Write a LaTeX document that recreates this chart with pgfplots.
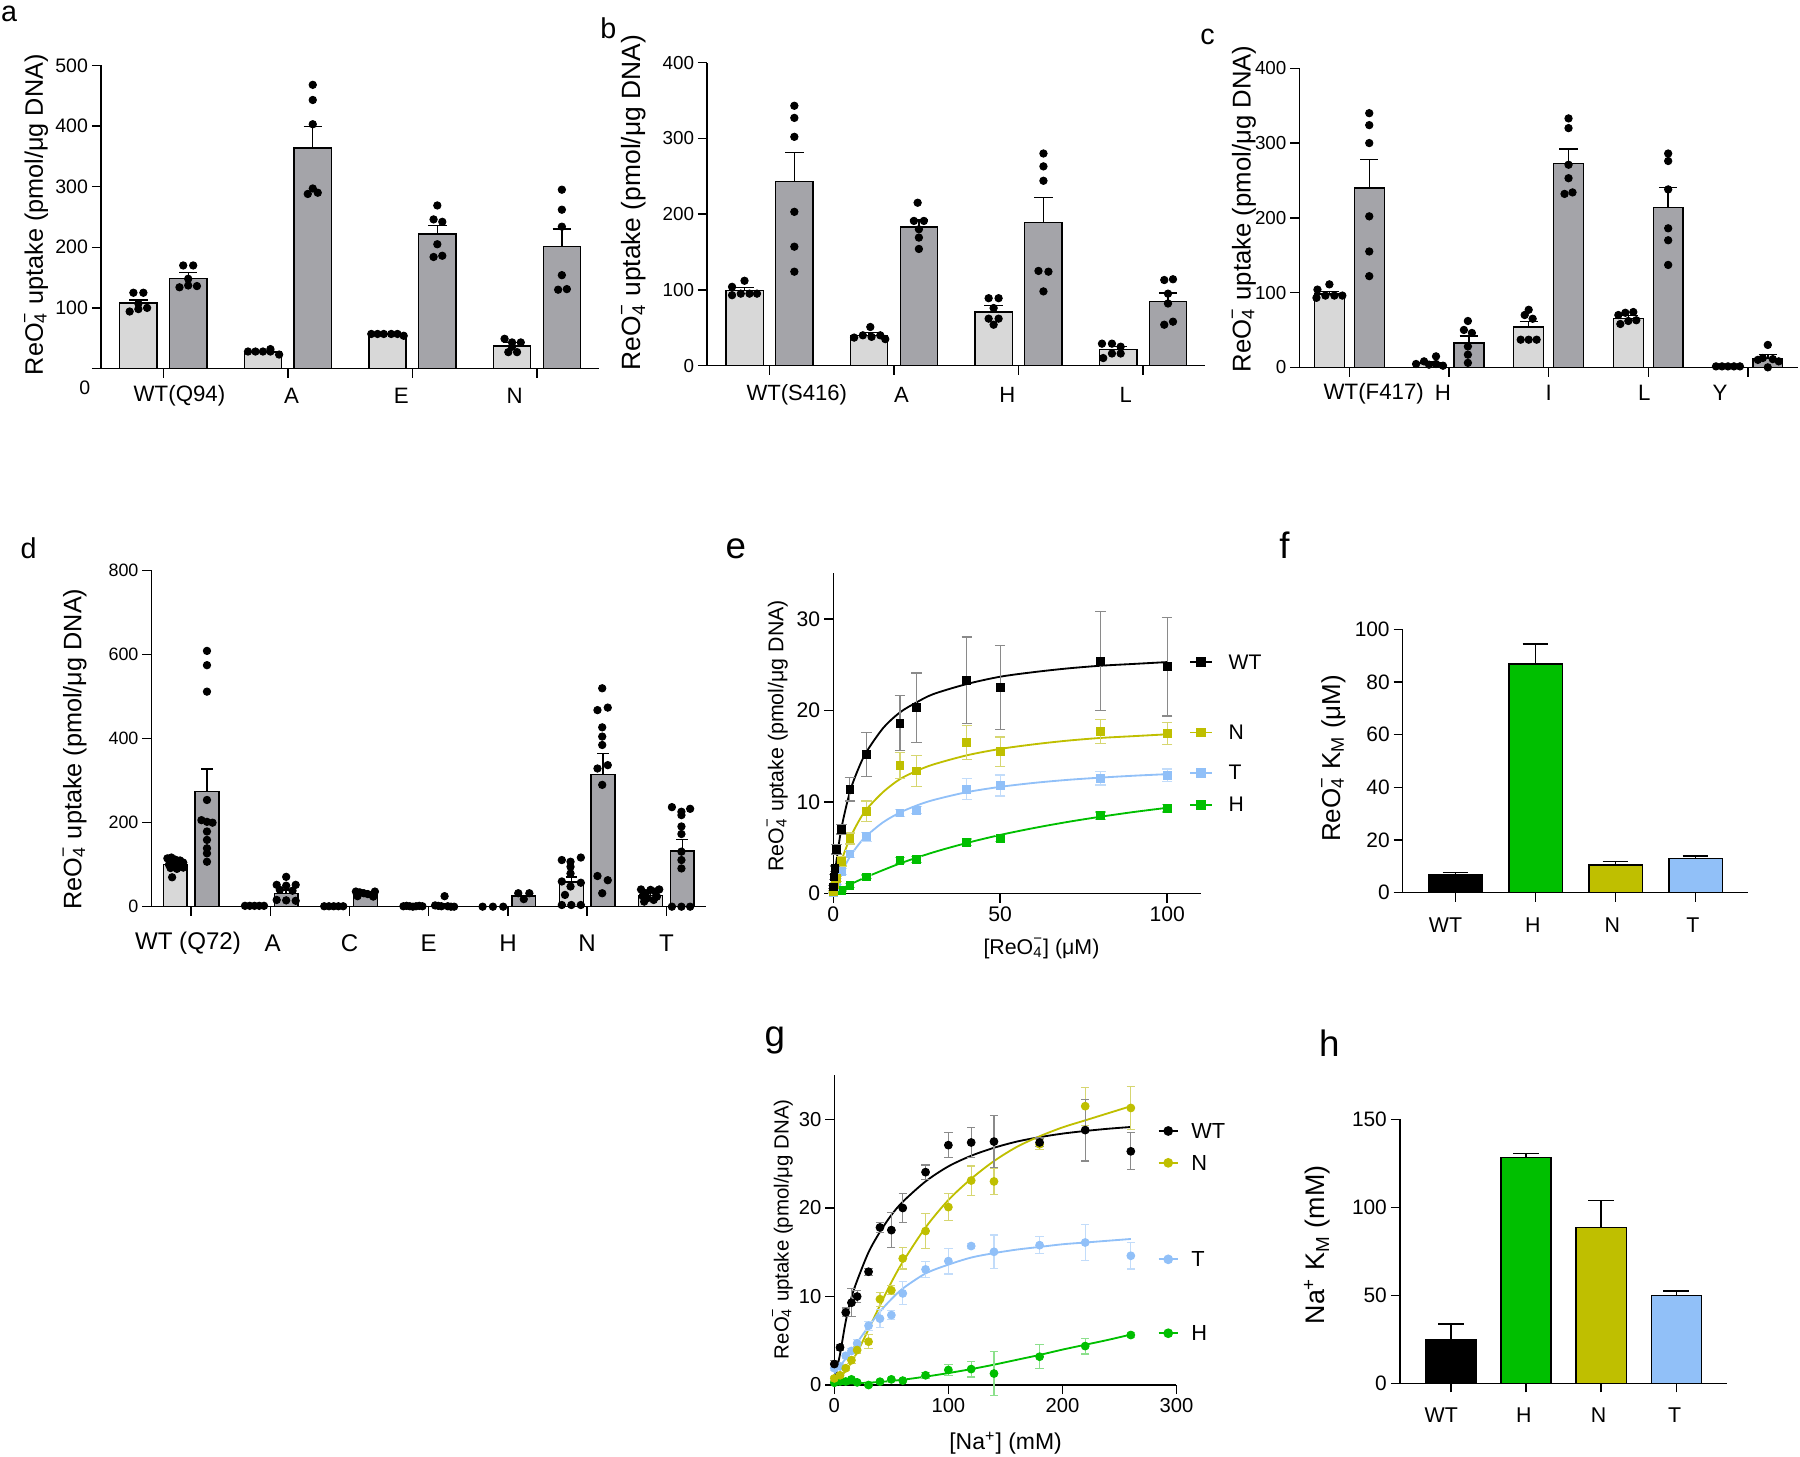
\documentclass[border=0pt]{standalone}
\usepackage{fontspec}
\setmainfont{Liberation Sans}
\usepackage{pgfplots}
\pgfplotsset{compat=1.18}
\definecolor{lgray}{HTML}{D8D8D8}
\definecolor{dgray}{HTML}{A4A4A9}
\definecolor{cgreen}{HTML}{00BF00}
\definecolor{colive}{HTML}{BFBF00}
\definecolor{cblue}{HTML}{91C0F8}
\definecolor{egray}{HTML}{8A8A8A}
\definecolor{egreen}{HTML}{8CE08C}
\definecolor{eolive}{HTML}{D6D670}
\definecolor{eblue}{HTML}{C2DCFA}
\newcommand\fs[1]{\fontsize{#1}{#1}\selectfont}
\newcommand\reo{ReO\rlap{\textsubscript{4}}\raisebox{0.12em}{\textsuperscript{−}}}
\pgfplotsset{
  base/.style={scale only axis, anchor=south west, axis lines*=left, enlargelimits=false,
    tick align=outside, major tick length=4pt, axis line style={line width=0.6pt},
    major tick style={line width=0.6pt, black}, clip=false,
    /pgf/number format/assume math mode=true, /pgf/number format/1000 sep={},
    yticklabel style={inner xsep=1.5pt}, xticklabel style={inner ysep=1.5pt}},
  lbar/.style={ybar, bar width=0.3, bar shift=0, fill=lgray, draw=black, line width=0.6pt,
    error bars/y dir=plus, error bars/y explicit,
    error bars/error bar style={line width=0.6pt, black},
    error bars/error mark options={rotate=90, mark size=#1, line width=0.6pt, black}},
  dbar/.style={ybar, bar width=0.3, bar shift=0, fill=dgray, draw=black, line width=0.6pt,
    error bars/y dir=plus, error bars/y explicit,
    error bars/error bar style={line width=0.6pt, black},
    error bars/error mark options={rotate=90, mark size=#1, line width=0.6pt, black}},
  kbar/.style={ybar, bar width=0.667, bar shift=0, fill=#1, draw=black, line width=0.6pt,
    error bars/y dir=plus, error bars/y explicit,
    error bars/error bar style={line width=0.6pt, black},
    error bars/error mark options={rotate=90, mark size=5.6pt, line width=0.6pt, black}},
  pts/.style={only marks, mark=*, mark size=1.6pt, black},
  epts/.style 2 args={only marks, mark=square*, mark size=1.7pt, color=#1,
    error bars/y dir=both, error bars/y explicit,
    error bars/error bar style={line width=0.5pt, #2},
    error bars/error mark options={rotate=90, mark size=2.3pt, line width=0.5pt, #2}},
  gpts/.style 2 args={only marks, mark=*, mark size=1.7pt, color=#1,
    error bars/y dir=both, error bars/y explicit,
    error bars/error bar style={line width=0.5pt, #2},
    error bars/error mark options={rotate=90, mark size=1.8pt, line width=0.5pt, #2}},
  fit/.style={#1, line width=0.8pt, smooth, no marks},
}
\begin{document}
\begin{tikzpicture}
\path[use as bounding box] (0,0) rectangle (784pt,-634.5pt);

% ---------------- a
\begin{axis}[base, at={(44pt,-160.5pt)}, width=217pt, height=132pt,
  xmin=-0.5, xmax=3.5, ymin=0, ymax=500, xtick={0,1,2,3}, xticklabels={,,,},
  ytick={0,100,200,300,400,500}, yticklabels={,100,200,300,400,500},
  tick label style={font=\fs{8.5}}]
\addplot[lbar=4pt] coordinates {(-0.2,108) +- (0,5) (0.8,27) +- (0,1.5) (1.8,57) +- (0,1) (2.8,37) +- (0,6)};
\addplot[dbar=4pt] coordinates {(0.2,149) +- (0,9) (1.2,364) +- (0,35) (2.2,222) +- (0,14) (3.2,201) +- (0,29)};
\addplot[pts] coordinates {(-0.24,125)(-0.16,125)(-0.27,94)(-0.2,98)(-0.13,100)(-0.2,107)
 (0.16,170)(0.24,170)(0.13,134)(0.2,137)(0.27,136)(0.2,148)
 (0.68,28)(0.74,28)(0.8,28)(0.86,32)(0.86,28)(0.93,23)
 (1.2,468)(1.2,443)(1.2,403)(1.16,288)(1.24,290)(1.2,297)
 (1.67,57)(1.72,57)(1.77,57)(1.83,57)(1.88,57)(1.93,54)
 (2.2,269)(2.17,246)(2.24,242)(2.2,205)(2.17,184)(2.24,186)
 (2.74,49)(2.8,43)(2.87,43)(2.77,27)(2.84,27)(2.8,36)
 (3.2,295)(3.2,262)(3.2,234)(3.2,154)(3.17,130)(3.24,131)};
\node[font=\fs{9.7}, yshift=-12pt] at (axis cs:0.13,0) {WT(Q94)};
\node[font=\fs{9.7}, yshift=-12pt] at (axis cs:1.03,0) {A};
\node[font=\fs{9.7}, yshift=-12pt] at (axis cs:1.91,0) {E};
\node[font=\fs{9.7}, yshift=-12pt] at (axis cs:2.82,0) {N};
\node[font=\fs{8.5}, yshift=-8.5pt] at (axis cs:-0.63,0) {0};
\end{axis}

% ---------------- b
\begin{axis}[base, at={(308pt,-159.25pt)}, width=217pt, height=132pt,
  xmin=-0.5, xmax=3.5, ymin=0, ymax=400, xtick={0,1,2,3}, xticklabels={,,,},
  ytick={0,100,200,300,400}, tick label style={font=\fs{8.2}}]
\addplot[lbar=4pt] coordinates {(-0.2,99) +- (0,4) (0.8,40) +- (0,4) (1.8,71) +- (0,8) (2.8,21) +- (0,4)};
\addplot[dbar=4pt] coordinates {(0.2,243) +- (0,38) (1.2,183) +- (0,10) (2.2,189) +- (0,33) (3.2,85) +- (0,11)};
\addplot[pts] coordinates {(-0.3,104)(-0.2,112)(-0.3,93)(-0.23,95)(-0.16,95)(-0.1,95)
 (0.2,343)(0.2,327)(0.2,302)(0.2,203)(0.2,157)(0.2,124)
 (0.68,37)(0.75,40)(0.81,51)(0.82,38)(0.89,40)(0.93,35)
 (1.19,215)(1.16,191)(1.24,191)(1.2,180)(1.2,169)(1.2,154)
 (1.76,89)(1.84,89)(1.8,76)(1.76,62)(1.84,62)(1.8,54)
 (2.2,280)(2.2,263)(2.2,244)(2.16,125)(2.24,124)(2.2,98)
 (2.67,29)(2.75,29)(2.68,10)(2.75,16)(2.82,16)(2.82,25)
 (3.17,113)(3.24,114)(3.2,95)(3.2,82)(3.17,54)(3.24,58)};
\node[font=\fs{9.6}, yshift=-12.75pt] at (axis cs:0.22,0) {WT(S416)};
\node[font=\fs{9.6}, yshift=-12.75pt] at (axis cs:1.06,0) {A};
\node[font=\fs{9.6}, yshift=-12.75pt] at (axis cs:1.91,0) {H};
\node[font=\fs{9.6}, yshift=-12.75pt] at (axis cs:2.86,0) {L};
\end{axis}

% ---------------- c
\begin{axis}[base, at={(566pt,-160pt)}, width=217pt, height=130.25pt,
  xmin=-0.5, xmax=4.5, ymin=0, ymax=400, xtick={0,1,2,3,4}, xticklabels={,,,,},
  ytick={0,100,200,300,400}, tick label style={font=\fs{8.2}}]
\addplot[lbar=4pt] coordinates {(-0.2,98) +- (0,3.5) (0.8,6) +- (0,2) (1.8,54) +- (0,7.5) (2.8,65) +- (0,4) (3.8,1.3) +- (0,0.3)};
\addplot[dbar=4pt] coordinates {(0.2,240) +- (0,38) (1.2,32.5) +- (0,9.5) (2.2,273) +- (0,19) (3.2,214) +- (0,26.5) (4.2,11.6) +- (0,5.4)};
\addplot[pts] coordinates {(-0.32,104)(-0.2,111)(-0.33,93)(-0.24,96)(-0.15,96)(-0.07,96)
 (0.2,340)(0.2,324)(0.2,300)(0.2,202)(0.2,155)(0.2,122)
 (0.67,4.5)(0.75,8)(0.8,3.6)(0.87,14.7)(0.87,4.5)(0.94,2.2)
 (1.19,62)(1.15,50)(1.23,46)(1.19,28)(1.19,17)(1.19,6)
 (1.8,77)(1.76,70)(1.84,65)(1.72,37)(1.8,37)(1.88,37)
 (2.2,333)(2.2,320)(2.2,271)(2.2,253)(2.16,232)(2.24,234)
 (2.7,70)(2.77,73)(2.85,74)(2.72,58)(2.8,62)(2.88,63)
 (3.2,286)(3.2,276)(3.2,238)(3.2,186)(3.2,170)(3.2,137)
 (3.68,1.3)(3.74,1.3)(3.8,1.3)(3.86,1.3)(3.92,1.3)
 (4.2,30)(4.1,10)(4.15,12.5)(4.25,11)(4.31,8)(4.2,0)};
\node[font=\fs{9.7}, yshift=-11.3pt] at (axis cs:0.245,0) {WT(F417)};
\node[font=\fs{9.7}, yshift=-11.3pt] at (axis cs:0.94,0) {H};
\node[font=\fs{9.7}, yshift=-11.3pt] at (axis cs:2.0,0) {I};
\node[font=\fs{9.7}, yshift=-11.3pt] at (axis cs:2.96,0) {L};
\node[font=\fs{9.7}, yshift=-11.3pt] at (axis cs:3.72,0) {Y};
\end{axis}

% ---------------- d
\begin{axis}[base, at={(66pt,-394.9pt)}, width=241.5pt, height=146.35pt,
  xmin=-0.5, xmax=6.5, ymin=0, ymax=800, xtick={0,1,2,3,4,5,6}, xticklabels={,,,,,,},
  ytick={0,200,400,600,800}, tick label style={font=\fs{7.8}}]
\addplot[lbar=2.5pt] coordinates {(-0.2,100) +- (0,6) (0.8,2) +- (0,0.5) (1.8,1) +- (0,0.3) (2.8,1) +- (0,0.3) (3.8,0) +- (0,0) (4.8,59) +- (0,12) (5.8,26) +- (0,10)};
\addplot[dbar=2.5pt] coordinates {(0.2,274) +- (0,54) (1.2,32) +- (0,8) (2.2,29) +- (0,3) (3.2,4) +- (0,3) (4.2,25) +- (0,2) (5.2,315) +- (0,50) (6.2,133) +- (0,27)};
\addplot[pts] coordinates {(-0.3,115)(-0.25,117)(-0.2,112)(-0.14,110)(-0.1,105)(-0.28,100)(-0.22,98)(-0.16,96)(-0.1,93)(-0.26,92)(-0.18,90)(-0.24,70)
 (0.2,609)(0.2,575)(0.2,512)(0.2,254)(0.13,206)(0.2,202)(0.27,200)(0.2,179)(0.2,159)(0.2,139)(0.2,127)(0.2,107)
 (0.68,2)(0.74,2)(0.8,2)(0.86,2)(0.92,2)
 (1.2,71)(1.08,52)(1.2,50)(1.32,52)(1.12,40)(1.28,38)(1.08,16)(1.2,15)(1.32,14)
 (1.68,1)(1.74,1)(1.8,1)(1.86,1)(1.92,1)
 (2.08,36)(2.13,34)(2.18,32)(2.23,30)(2.28,28)(2.32,36)(2.1,25)(2.3,24)
 (2.68,1)(2.72,2)(2.76,1)(2.8,0)(2.84,1)(2.88,2)(2.92,1)
 (3.2,25)(3.08,3)(3.12,2)(3.16,1)(3.24,1)(3.28,0)(3.32,0)
 (3.68,0)(3.81,0)(3.94,0)
 (4.13,32)(4.27,32)(4.2,18)
 (4.68,111)(4.92,117)(4.79,107)(4.79,95)(4.79,79)(4.68,60)(4.92,57)(4.79,48)(4.72,28)(4.68,4)(4.8,4)(4.92,4)
 (5.19,520)(5.13,468)(5.26,474)(5.19,427)(5.19,405)(5.19,385)(5.13,329)(5.26,337)(5.19,290)(5.13,73)(5.26,63)(5.19,32)
 (5.68,41)(5.8,40)(5.91,41)(5.74,32)(5.86,36)(5.7,25)(5.88,24)(5.76,20)(5.84,16)(5.72,12)
 (6.07,237)(6.3,233)(6.19,226)(6.19,218)(6.19,191)(6.19,173)(6.19,131)(6.19,111)(6.19,91)(6.07,0)(6.19,0)(6.3,0)};
\node[font=\fs{10.5}, yshift=-16pt] at (axis cs:-0.04,0) {WT (Q72)};
\node[font=\fs{10.5}, yshift=-16pt] at (axis cs:1.03,0) {A};
\node[font=\fs{10.5}, yshift=-16pt] at (axis cs:2,0) {C};
\node[font=\fs{10.5}, yshift=-16pt] at (axis cs:3,0) {E};
\node[font=\fs{10.5}, yshift=-16pt] at (axis cs:4,0) {H};
\node[font=\fs{10.5}, yshift=-16pt] at (axis cs:5,0) {N};
\node[font=\fs{10.5}, yshift=-16pt] at (axis cs:6,0) {T};
\end{axis}

% ---------------- e
\begin{axis}[base, at={(362.9pt,-389.1pt)}, width=160pt, height=139.35pt,
  xmin=0, xmax=110, ymin=0, ymax=35, xtick={0,50,100}, ytick={0,10,20,30},
  tick label style={font=\fs{9.2}}]
\addplot[fit=black] coordinates {(0,0)(0.5,2.0)(1,3.6)(2.5,7.2)(5,11.1)(7.5,13.6)(10,15.5)(15,18.1)(20,19.8)(25,20.9)(30,21.8)(40,22.9)(50,23.7)(60,24.2)(70,24.6)(80,24.9)(90,25.1)(100,25.3)};
\addplot[fit=colive] coordinates {(0,0)(1,1.6)(2.5,3.6)(5,6.0)(7.5,7.8)(10,9.2)(15,11.1)(20,12.5)(25,13.4)(30,14.1)(40,15.1)(50,15.8)(60,16.3)(70,16.7)(80,17.0)(90,17.2)(100,17.4)};
\addplot[fit=cblue] coordinates {(0,0)(1,1.02)(2.5,2.31)(5,4.0)(7.5,5.29)(10,6.3)(15,7.79)(20,8.84)(25,9.61)(30,10.21)(40,11.07)(50,11.65)(60,12.08)(70,12.41)(80,12.66)(90,12.87)(100,13.04)};
\addplot[fit=cgreen] coordinates {(0,0)(5,0.95)(10,1.8)(20,3.27)(30,4.49)(40,5.51)(50,6.39)(60,7.14)(70,7.8)(80,8.38)(90,8.9)(100,9.36)};
\addplot[epts={cgreen}{egreen}] coordinates {(0,0.05) +- (0,0.1) (2.5,0.35) +- (0,0.1) (5,0.85) +- (0,0.2) (10,1.8) +- (0,0.2) (20,3.6) +- (0,0.3) (25,3.7) +- (0,0.3) (40,5.6) +- (0,0.35) (50,6.0) +- (0,0.3) (80,8.5) +- (0,0.4) (100,9.3) +- (0,0.4)};
\addplot[epts={cblue}{eblue}] coordinates {(0,0.1) +- (0,0.1) (0.25,0.4) +- (0,0.1) (0.5,0.7) +- (0,0.2) (1,1.3) +- (0,0.3) (2.5,2.4) +- (0,0.3) (5,4.3) +- (0,0.4) (10,6.2) +- (0,0.5) (20,8.8) +- (0,0.4) (25,9.1) +- (0,0.4) (40,11.4) +- (0,1.15) (50,11.8) +- (0,1.15) (80,12.6) +- (0,0.75) (100,12.9) +- (0,0.7)};
\addplot[epts={colive}{eolive}] coordinates {(0,0.2) +- (0,0.1) (0.25,0.6) +- (0,0.2) (0.5,1.0) +- (0,0.2) (1,1.6) +- (0,0.3) (2.5,3.5) +- (0,0.5) (5,6.0) +- (0,0.6) (10,9.0) +- (0,1.1) (20,14.0) +- (0,1.4) (25,13.4) +- (0,1.7) (40,16.5) +- (0,1.85) (50,15.5) +- (0,1.6) (80,17.7) +- (0,1.35) (100,17.5) +- (0,1.2)};
\addplot[epts={black}{egray}] coordinates {(0,0.7) +- (0,0.2) (0.25,1.8) +- (0,0.3) (0.5,2.7) +- (0,0.3) (1,4.8) +- (0,0.5) (2.5,7.0) +- (0,0.5) (5,11.4) +- (0,1.3) (10,15.2) +- (0,2.4) (20,18.6) +- (0,3.0) (25,20.3) +- (0,3.8) (40,23.3) +- (0,4.75) (50,22.5) +- (0,4.6) (80,25.4) +- (0,5.4) (100,24.8) +- (0,5.4)};
% legend
\addplot[black, line width=0.8pt, mark=square*, mark size=1.7pt, mark indices={2}] coordinates {(106.9,25.3)(110.1,25.3)(113.4,25.3)};
\addplot[colive, line width=0.8pt, mark=square*, mark size=1.7pt, mark indices={2}] coordinates {(106.9,17.6)(110.1,17.6)(113.4,17.6)};
\addplot[cblue, line width=0.8pt, mark=square*, mark size=1.7pt, mark indices={2}] coordinates {(106.9,13.2)(110.1,13.2)(113.4,13.2)};
\addplot[cgreen, line width=0.8pt, mark=square*, mark size=1.7pt, mark indices={2}] coordinates {(106.9,9.7)(110.1,9.7)(113.4,9.7)};
\node[font=\fs{9.2}, anchor=west] at (axis cs:116,25.3) {WT};
\node[font=\fs{9.2}, anchor=west] at (axis cs:116,17.6) {N};
\node[font=\fs{9.2}, anchor=west] at (axis cs:116,13.2) {T};
\node[font=\fs{9.2}, anchor=west] at (axis cs:116,9.7) {H};
\end{axis}

% ---------------- f
\begin{axis}[base, at={(610.95pt,-388.8pt)}, width=150.55pt, height=114.7pt,
  xmin=-0.66, xmax=3.66, ymin=0, ymax=100, xtick={0,1,2,3}, xticklabels={,,,},
  ytick={0,20,40,60,80,100}, tick label style={font=\fs{9.1}}]
\addplot[kbar=black] coordinates {(0,7.0) +- (0,0.6)};
\addplot[kbar=cgreen] coordinates {(1,86.8) +- (0,7.6)};
\addplot[kbar=colive] coordinates {(2,10.5) +- (0,1.3)};
\addplot[kbar=cblue] coordinates {(3,13.0) +- (0,0.9)};
\node[font=\fs{9.3}, yshift=-14pt] at (axis cs:-0.125,0) {WT};
\node[font=\fs{9.3}, yshift=-14pt] at (axis cs:0.967,0) {H};
\node[font=\fs{9.3}, yshift=-14pt] at (axis cs:1.96,0) {N};
\node[font=\fs{9.3}, yshift=-14pt] at (axis cs:2.967,0) {T};
\end{axis}

% ---------------- g
\begin{axis}[base, at={(363.4pt,-603.25pt)}, width=149pt, height=134.95pt,
  xmin=0, xmax=300, ymin=0, ymax=35, xtick={0,100,200,300}, ytick={0,10,20,30},
  tick label style={font=\fs{8.8}}]
\addplot[fit=black] coordinates {(0,0.5)(5,3.5)(10,7.2)(15,9.9)(20,11.8)(30,15.0)(40,17.3)(50,19.2)(60,20.7)(80,23.0)(100,24.7)(120,25.9)(140,26.8)(160,27.5)(180,28.0)(200,28.4)(220,28.7)(240,28.95)(260,29.15)};
\addplot[fit=colive] coordinates {(0,0.3)(10,1.6)(20,3.7)(30,6.3)(40,9.0)(50,11.6)(60,13.9)(80,17.8)(100,20.9)(120,23.3)(140,25.3)(160,26.9)(180,28.1)(200,29.1)(220,29.9)(240,30.7)(260,31.5)};
\addplot[fit=cblue] coordinates {(0,1.3)(10,3.0)(20,4.8)(30,6.6)(40,8.3)(50,9.7)(60,10.9)(80,12.6)(100,13.6)(120,14.4)(140,14.9)(160,15.3)(180,15.6)(200,15.9)(220,16.1)(240,16.3)(260,16.5)};
\addplot[fit=cgreen] coordinates {(0,0.1)(20,0.2)(40,0.35)(60,0.6)(80,0.95)(100,1.35)(120,1.8)(140,2.3)(160,2.85)(180,3.4)(200,4.0)(220,4.55)(240,5.1)(260,5.7)};
\addplot[gpts={cgreen}{egreen}] coordinates {(0,0.26) +- (0,0.1) (5,0.4) +- (0,0.1) (10,0.4) +- (0,0.1) (15,0.64) +- (0,0.1) (20,0.3) +- (0,0.1) (30,0) +- (0,0.2) (40,0.38) +- (0,0.2) (50,0.64) +- (0,0.2) (60,0.5) +- (0,0.2) (80,1.1) +- (0,0.3) (100,1.7) +- (0,0.6) (120,1.8) +- (0,0.9) (140,1.3) +- (0,2.5) (180,3.2) +- (0,1.35) (220,4.4) +- (0,0.9) (260,5.65) +- (0,0.3)};
\addplot[gpts={cblue}{eblue}] coordinates {(0,1.9) +- (0,0.3) (5,2.1) +- (0,0.3) (10,3.3) +- (0,0.3) (15,3.85) +- (0,0.3) (20,4.7) +- (0,0.4) (30,6.7) +- (0,0.5) (40,7.5) +- (0,1.0) (50,7.9) +- (0,0.5) (60,10.35) +- (0,1.3) (80,13.06) +- (0,0.9) (100,14.0) +- (0,1.45) (120,15.7) +- (0,0.3) (140,15.05) +- (0,1.9) (180,15.8) +- (0,0.95) (220,16.1) +- (0,2.0) (260,14.6) +- (0,1.5)};
\addplot[gpts={colive}{eolive}] coordinates {(0,0.75) +- (0,0.2) (5,1.1) +- (0,0.2) (10,1.9) +- (0,0.3) (15,2.8) +- (0,0.4) (20,3.95) +- (0,0.4) (30,4.9) +- (0,0.8) (40,9.7) +- (0,0.8) (50,10.7) +- (0,0.5) (60,14.3) +- (0,1.2) (80,17.4) +- (0,1.95) (100,20.1) +- (0,1.5) (120,23.1) +- (0,1.65) (140,23.0) +- (0,1.5) (180,27.2) +- (0,0.6) (220,31.5) +- (0,2.15) (260,31.3) +- (0,2.4)};
\addplot[gpts={black}{egray}] coordinates {(0,2.37) +- (0,0.4) (5,4.25) +- (0,0.3) (10,8.2) +- (0,0.5) (15,9.3) +- (0,1.6) (20,10.0) +- (0,0.7) (30,12.8) +- (0,0.4) (40,17.8) +- (0,0.6) (50,17.5) +- (0,2.0) (60,20.0) +- (0,1.6) (80,24.05) +- (0,0.8) (100,27.1) +- (0,1.4) (120,27.4) +- (0,1.7) (140,27.5) +- (0,2.9) (180,27.4) +- (0,0.5) (220,28.8) +- (0,3.5) (260,26.4) +- (0,2.1)};
% legend
\addplot[black, line width=0.8pt, mark=*, mark size=1.7pt, mark indices={2}] coordinates {(284.4,28.7)(292.8,28.7)(301.3,28.7)};
\addplot[colive, line width=0.8pt, mark=*, mark size=1.7pt, mark indices={2}] coordinates {(284.4,25.1)(292.8,25.1)(301.3,25.1)};
\addplot[cblue, line width=0.8pt, mark=*, mark size=1.7pt, mark indices={2}] coordinates {(284.4,14.2)(292.8,14.2)(301.3,14.2)};
\addplot[cgreen, line width=0.8pt, mark=*, mark size=1.7pt, mark indices={2}] coordinates {(284.4,5.85)(292.8,5.85)(301.3,5.85)};
\node[font=\fs{9.5}, anchor=west] at (axis cs:306,28.7) {WT};
\node[font=\fs{9.5}, anchor=west] at (axis cs:306,25.1) {N};
\node[font=\fs{9.5}, anchor=west] at (axis cs:306,14.2) {T};
\node[font=\fs{9.5}, anchor=west] at (axis cs:306,5.85) {H};
\end{axis}

% ---------------- h
\begin{axis}[base, at={(609.75pt,-602.5pt)}, width=142.25pt, height=115pt,
  xmin=-0.68, xmax=3.67, ymin=0, ymax=150, xtick={0,1,2,3}, xticklabels={,,,},
  ytick={0,50,100,150}, tick label style={font=\fs{9.1}}]
\addplot[kbar=black] coordinates {(0,25) +- (0,8.7)};
\addplot[kbar=cgreen] coordinates {(1,128.2) +- (0,2.5)};
\addplot[kbar=colive] coordinates {(2,88.4) +- (0,15.4)};
\addplot[kbar=cblue] coordinates {(3,50) +- (0,2.5)};
\node[font=\fs{9.3}, yshift=-13.8pt] at (axis cs:-0.13,0) {WT};
\node[font=\fs{9.3}, yshift=-13.8pt] at (axis cs:0.97,0) {H};
\node[font=\fs{9.3}, yshift=-13.8pt] at (axis cs:1.966,0) {N};
\node[font=\fs{9.3}, yshift=-13.8pt] at (axis cs:2.98,0) {T};
\end{axis}

% ---------------- free text
\begin{scope}[x=0.5pt,y=-0.5pt]
\node[font=\fs{12.5}] at (8,12) {a};
\node[font=\fs{12.5}] at (530,25) {b};
\node[font=\fs{12.5}] at (1052,32) {c};
\node[font=\fs{12.5}] at (25,478) {d};
\node[font=\fs{16}] at (641,478) {e};
\node[font=\fs{16}] at (1119,475) {f};
\node[font=\fs{16}] at (675,906) {g};
\node[font=\fs{16}] at (1158,909) {h};
\node[rotate=90, font=\fs{11}] at (31.5,187) {\reo\ uptake (pmol/μg DNA)};
\node[rotate=90, font=\fs{11.5}] at (552,176.4) {\reo\ uptake (pmol/μg DNA)};
\node[rotate=90, font=\fs{11.2}] at (1083.5,182) {\reo\ uptake (pmol/μg DNA)};
\node[rotate=90, font=\fs{11}] at (65,652.5) {\reo\ uptake (pmol/μg DNA)};
\node[rotate=90, font=\fs{9.3}] at (677,641) {\reo\ uptake (pmol/μg DNA)};
\node[rotate=90, font=\fs{8.9}] at (681.7,1070.7) {\reo\ uptake (pmol/μg DNA)};
\node[rotate=90, font=\fs{11.3}] at (1161.5,660.6) {\reo\ K\textsubscript{M} (μM)};
\node[rotate=90, font=\fs{11.7}] at (1147.5,1084.5) {Na\textsuperscript{+} K\textsubscript{M} (mM)};
\node[font=\fs{9.3}] at (907.2,826) {[\reo] (μM)};
\node[font=\fs{10}] at (876,1257) {[Na\textsuperscript{+}] (mM)};
\end{scope}
\end{tikzpicture}
\end{document}
